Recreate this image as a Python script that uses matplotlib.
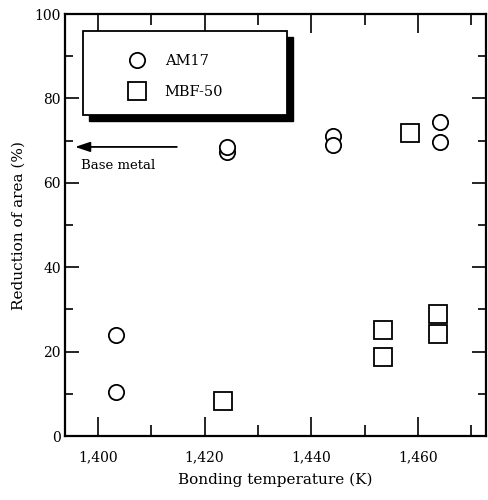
import matplotlib
matplotlib.use('Agg')
import matplotlib.pyplot as plt
from matplotlib.patches import Rectangle
from matplotlib.ticker import MultipleLocator, FixedLocator, FixedFormatter

# values
am17_temp = [1403.4, 1403.4, 1424.2, 1424.2, 1444.1, 1444.1, 1464.2, 1464.2]
am17_roa = [23.9, 10.5, 67.3, 68.5, 71.0, 69.0, 74.5, 69.7]
mbf50_temp = [1423.4, 1458.5, 1453.5, 1453.5, 1463.7, 1463.7]
mbf50_roa = [8.4, 71.9, 25.1, 18.8, 29.0, 24.2]
xticks = [1400, 1420, 1440, 1460]
xtick_labels = ['1,400', '1,420', '1,440', '1,460']
yticks = [0, 20, 40, 60, 80, 100]
base_metal = 68.5

plt.rcParams['font.family'] = ['DejaVu Serif']

fig = plt.figure(figsize=(4.88, 5.0), dpi=100)
ax = fig.add_axes([0.133, 0.128, 0.863, 0.844])

ax.plot(am17_temp, am17_roa, 'o', ms=11, mfc='white', mec='black', mew=1.3,
        linestyle='none', label='AM17')
ax.plot(mbf50_temp, mbf50_roa, 's', ms=12.5, mfc='white', mec='black', mew=1.3,
        linestyle='none', label='MBF-50')

ax.set_xlim(1393.8, 1472.8)
ax.set_ylim(0, 100)
ax.xaxis.set_major_locator(FixedLocator(xticks))
ax.xaxis.set_major_formatter(FixedFormatter(xtick_labels))
ax.xaxis.set_minor_locator(MultipleLocator(10))
ax.set_yticks(yticks)
ax.yaxis.set_minor_locator(MultipleLocator(10))

ax.tick_params(which='both', direction='in', top=True, right=True, labelsize=10, width=1.2)
ax.tick_params(axis='x', which='major', length=14, pad=10)
ax.tick_params(axis='x', which='minor', length=8)
ax.tick_params(axis='y', which='major', length=10, pad=3)
ax.tick_params(axis='y', which='minor', length=6)
for s in ax.spines.values():
    s.set_linewidth(1.6)

ax.set_xlabel('Bonding temperature (K)', fontsize=11, labelpad=6)
ax.set_ylabel('Reduction of area (%)', fontsize=11, labelpad=6)

# base metal arrow
ax.annotate('', xy=(1395.7, base_metal), xytext=(1414.8, base_metal),
            arrowprops=dict(arrowstyle='-|>,head_length=0.9,head_width=0.3',
                            color='black', lw=1.3, shrinkA=0, shrinkB=0))
ax.text(1396.8, 64.2, 'Base metal', fontsize=9.5, ha='left', va='center')

# legend box with solid shadow
ax.add_patch(Rectangle((0.057, 0.747), 0.484, 0.199, transform=ax.transAxes,
                       facecolor='black', edgecolor='black', zorder=4))
ax.add_patch(Rectangle((0.043, 0.761), 0.484, 0.199, transform=ax.transAxes,
                       facecolor='white', edgecolor='black', lw=1.3, zorder=5))
leg = ax.legend(loc='upper left', bbox_to_anchor=(0.154, 0.905), frameon=False,
                fontsize=10.5, handletextpad=1.4, labelspacing=1.15,
                handlelength=1.0, borderaxespad=0, borderpad=0)
leg.set_zorder(6)

fig.savefig('out.png', dpi=100)
